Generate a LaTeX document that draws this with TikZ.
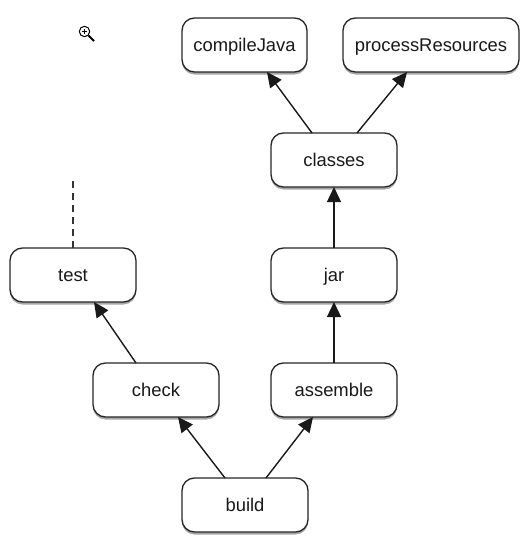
\documentclass[tikz,border=0pt]{standalone}
\usepackage{fontspec}
\setmainfont{Liberation Sans}
\usetikzlibrary{arrows.meta,shadows}
\tikzset{
  taskbox/.style={draw=black!85,fill=white,rounded corners=12.5pt,line width=1.3pt,minimum height=54pt,inner sep=0pt,outer sep=0pt,
    text height=13.4pt,text depth=0.4pt,
    font=\fontsize{18.4pt}{22pt}\selectfont,text=black!90,
    drop shadow={shadow xshift=0pt,shadow yshift=-2.5pt,opacity=0.35,fill=black}},
  dep/.style={-{Triangle[length=15pt,width=14pt]},line width=1.4pt,draw=black!90},
}
\begin{document}
\begin{tikzpicture}[x=1pt,y=-1pt]
\useasboundingbox (0,0) rectangle (523,538);
\node[taskbox,minimum width=125pt] (compile) at (244.5,45) {compileJava};
\node[taskbox,minimum width=176pt] (process) at (431,45) {processResources};
\node[taskbox,minimum width=126pt] (classes) at (334,160) {classes};
\node[taskbox,minimum width=126pt] (jar) at (334,275) {jar};
\node[taskbox,minimum width=126pt] (test) at (73,275) {test};
\node[taskbox,minimum width=126pt] (check) at (156,390) {check};
\node[taskbox,minimum width=126pt] (assemble) at (334,390) {assemble};
\node[taskbox,minimum width=126pt] (build) at (245,505) {build};
\coordinate (free) at (73,181);
\draw[dep] ([xshift=-22pt]classes.north) -- ([xshift=22.5pt]compile.south);
\draw[dep] ([xshift=23pt]classes.north) -- ([xshift=-24pt]process.south);
\draw[dep] (jar.north) -- (classes.south);
\draw[dep] (assemble.north) -- (jar.south);
\draw[dep] ([xshift=-20pt]check.north) -- ([xshift=21pt]test.south);
\draw[dep] ([xshift=-20pt]build.north) -- ([xshift=22pt]check.south);
\draw[dep] ([xshift=21pt]build.north) -- ([xshift=-21pt]assemble.south);
\draw[line width=1.2pt,draw=black!80,dash pattern=on 7pt off 5pt] (test.north) -- (free);
% magnifier icon
\draw[line width=1pt] (84.5,31.5) circle (5.2pt);
\draw[line width=1.2pt] (82,31.5) -- (87,31.5) (84.5,29) -- (84.5,34);
\draw[line width=2pt] (88.5,35.5) -- (94,41);
\end{tikzpicture}
\end{document}
